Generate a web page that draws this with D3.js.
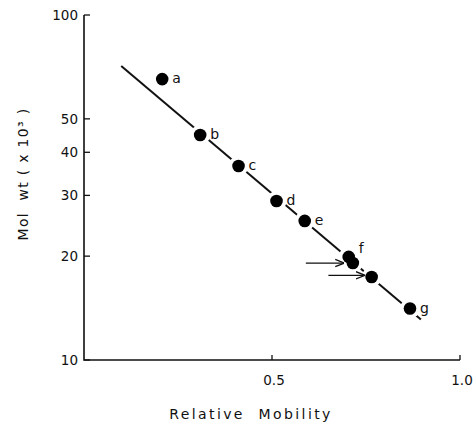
<!DOCTYPE html>
<html>
<head>
<meta charset="utf-8">
<script src="https://cdn.jsdelivr.net/npm/d3@7"></script>
<style>
  body { margin: 0; background: #fff; }
  text { font-family: "DejaVu Sans", sans-serif; fill: #111; }
</style>
</head>
<body>
<div id="chart"></div>
<script>
// marker proteins (relative mobility vs mol wt x10^3)
var labels = ["a", "b", "c", "d", "e", "f", "", "", "g"];
var mobility = [0.208, 0.309, 0.411, 0.512, 0.587, 0.704, 0.715, 0.765, 0.867];
var molWt = [65.2, 44.9, 36.5, 28.9, 25.3, 19.9, 19.1, 17.4, 14.1];

// fitted line end points
var fitX = [0.099, 0.896];
var fitY = [71.2, 13.1];

// arrowed bands
var arrowX = [[0.59, 0.69], [0.65, 0.745]];
var arrowY = [19.1, 17.6];

var xTicks = [0.5, 1.0];
var xTickLabels = ["0.5", "1.0"];
var yTicks = [10, 20, 30, 40, 50, 100];

var width = 476;
var height = 429;

var svg = d3.select('#chart')
  .append("svg")
  .attr("width", width)
  .attr("height", height)

var x = d3.scaleLinear().domain([0, 1]).range([84, 460])
var y = d3.scaleLog().domain([10, 100]).range([360, 15])

// axes
svg.append("path")
  .attr("d", "M" + x(0) + "," + y(100) + "V" + y(10) + "H" + x(1))
  .attr("fill", "none")
  .attr("stroke", "#111")
  .attr("stroke-width", 1.6)

svg.selectAll(".ytick")
  .data(yTicks)
  .enter()
  .append("line")
  .attr("class", "ytick")
  .attr("x1", x(0)).attr("x2", x(0) + 6)
  .attr("y1", function (d) { return y(d) })
  .attr("y2", function (d) { return y(d) })
  .attr("stroke", "#111").attr("stroke-width", 1.3)

svg.selectAll(".ylab")
  .data(yTicks)
  .enter()
  .append("text")
  .attr("class", "ylab")
  .attr("x", x(0) - 6)
  .attr("y", function (d) { return y(d) + 5 })
  .attr("text-anchor", "end")
  .attr("font-size", 13.5)
  .text(function (d) { return d })

svg.selectAll(".xtick")
  .data(xTicks)
  .enter()
  .append("line")
  .attr("class", "xtick")
  .attr("x1", function (d) { return x(d) })
  .attr("x2", function (d) { return x(d) })
  .attr("y1", y(10)).attr("y2", y(10) - 5)
  .attr("stroke", "#111").attr("stroke-width", 1.3)

svg.selectAll(".xlab")
  .data(xTicks)
  .enter()
  .append("text")
  .attr("class", "xlab")
  .attr("x", function (d) { return x(d) + 2 })
  .attr("y", y(10) + 25)
  .attr("text-anchor", "middle")
  .attr("font-size", 13.5)
  .text(function (d, i) { return xTickLabels[i] })

// axis titles
svg.append("text")
  .attr("x", 251).attr("y", 419)
  .attr("text-anchor", "middle")
  .attr("font-size", 14)
  .attr("letter-spacing", 2.4)
  .attr("xml:space", "preserve")
  .text("Relative  Mobility")

svg.append("text")
  .attr("transform", "translate(28,174) rotate(-90)")
  .attr("text-anchor", "middle")
  .attr("font-size", 14)
  .attr("letter-spacing", 1.3)
  .attr("xml:space", "preserve")
  .text("Mol  wt ( x 10³ )")

// fitted line
svg.append("line")
  .attr("x1", x(fitX[0])).attr("y1", y(fitY[0]))
  .attr("x2", x(fitX[1])).attr("y2", y(fitY[1]))
  .attr("stroke", "#111")
  .attr("stroke-width", 2)

// white halos first so the line breaks around the points
svg.selectAll(".halo")
  .data(mobility)
  .enter()
  .append("circle")
  .attr("class", "halo")
  .attr("cx", function (d) { return x(d) })
  .attr("cy", function (d, i) { return y(molWt[i]) })
  .attr("r", 10)
  .attr("fill", "#fff")

svg.selectAll(".dot")
  .data(mobility)
  .enter()
  .append("circle")
  .attr("class", "dot")
  .attr("cx", function (d) { return x(d) })
  .attr("cy", function (d, i) { return y(molWt[i]) })
  .attr("r", 6.3)
  .attr("fill", "#000")

svg.selectAll(".plab")
  .data(mobility)
  .enter()
  .append("text")
  .attr("class", "plab")
  .attr("x", function (d) { return x(d) + 10 })
  .attr("y", function (d, i) { return y(molWt[i]) + (labels[i] === "f" ? -4 : 4) })
  .attr("font-size", 14)
  .text(function (d, i) { return labels[i] })

// arrows
svg.append("defs").append("marker")
  .attr("id", "head")
  .attr("viewBox", "0 0 10 10")
  .attr("refX", 9).attr("refY", 5)
  .attr("markerWidth", 7).attr("markerHeight", 7)
  .attr("orient", "auto")
  .append("path")
  .attr("d", "M0,1L10,5L0,9")
  .attr("fill", "none")
  .attr("stroke", "#111")
  .attr("stroke-width", 1.5)

svg.selectAll(".arrow")
  .data(arrowY)
  .enter()
  .append("line")
  .attr("class", "arrow")
  .attr("x1", function (d, i) { return x(arrowX[i][0]) })
  .attr("x2", function (d, i) { return x(arrowX[i][1]) })
  .attr("y1", function (d) { return y(d) })
  .attr("y2", function (d) { return y(d) })
  .attr("stroke", "#111")
  .attr("stroke-width", 1.3)
  .attr("marker-end", "url(#head)")
</script>
</body>
</html>
